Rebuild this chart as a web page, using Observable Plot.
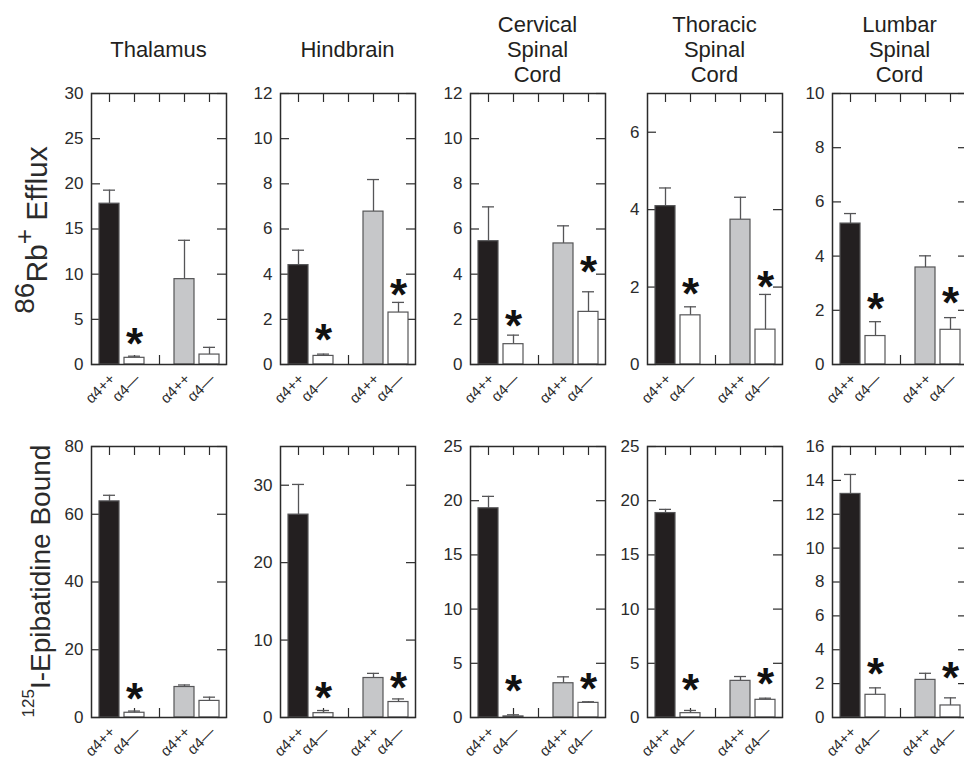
<!DOCTYPE html>
<html>
<head>
<meta charset="utf-8">
<script src="https://cdn.jsdelivr.net/npm/d3@7"></script>
<script src="https://cdn.jsdelivr.net/npm/@observablehq/plot@0.6"></script>
<style>
  html, body { margin: 0; padding: 0; background: #fff; overflow: hidden; width: 964px; height: 759px; }
  #chart { position: relative; width: 964px; height: 759px; overflow: hidden;
           font-family: "Liberation Sans", Arial, Helvetica, sans-serif; color: #231f20; }
  .panel { position: absolute; }
  .title { position: absolute; width: 200px; text-align: center; font-size: 22px; line-height: 25px; white-space: pre; }
</style>
</head>
<body>
<div id="chart"></div>
<script>
// ---------------- data ----------------
const regions = ["Thalamus", "Hindbrain", "Cervical\nSpinal\nCord", "Thoracic\nSpinal\nCord", "Lumbar\nSpinal\nCord"];
const barKeys = ["wt1", "ko1", "wt2", "ko2"];
const barLabels = ["α4++", "α4—", "α4++", "α4—"];
const slotKeys = ["wt1", "ko1", "gap", "wt2", "ko2"];

// 86Rb+ efflux (top row)
const effluxMax = [30, 12, 12, 7, 10];
const effluxTicks = [[0, 5, 10, 15, 20, 25, 30], [0, 2, 4, 6, 8, 10, 12], [0, 2, 4, 6, 8, 10, 12], [0, 2, 4, 6], [0, 2, 4, 6, 8, 10]];
const effluxMean = [[17.8, 0.74, 9.45, 1.1], [4.4, 0.38, 6.77, 2.3], [5.46, 0.9, 5.36, 2.33], [4.09, 1.27, 3.74, 0.9], [5.2, 1.05, 3.58, 1.28]];
const effluxErr = [[1.5, 0.18, 4.3, 0.8], [0.66, 0.08, 1.42, 0.45], [1.52, 0.4, 0.78, 0.89], [0.47, 0.22, 0.58, 0.91], [0.37, 0.53, 0.43, 0.45]];
// height (in axis units) of the significance asterisk, null = none
const effluxStar = [[null, 3.2, null, null], [null, 1.42, null, 3.42], [null, 2.04, null, 4.45], [null, 2.02, null, 2.2], [null, 2.34, null, 2.57]];

// 125I-epibatidine binding (bottom row)
const bindingMax = [80, 35, 25, 25, 16];
const bindingTicks = [[0, 20, 40, 60, 80], [0, 10, 20, 30], [0, 5, 10, 15, 20, 25], [0, 5, 10, 15, 20, 25], [0, 2, 4, 6, 8, 10, 12, 14, 16]];
const bindingMean = [[63.8, 1.4, 9.0, 4.9], [26.2, 0.56, 5.1, 2.0], [19.3, 0.1, 3.16, 1.35], [18.86, 0.4, 3.38, 1.63], [13.2, 1.34, 2.22, 0.71]];
const bindingErr = [[1.8, 0.5, 0.6, 1.1], [3.9, 0.34, 0.6, 0.4], [1.1, 0.15, 0.59, 0.1], [0.34, 0.25, 0.4, 0.15], [1.15, 0.41, 0.39, 0.45]];
const bindingStar = [[null, 7.96, null, null], [null, 3.49, null, 4.85], [null, 3.18, null, 3.41], [null, 3.26, null, 3.81], [null, 3.07, null, 2.83]];

// ---------------- layout / style ----------------
const FONT = '"Liberation Sans", Arial, Helvetica, sans-serif';
const ML = 40, MR = 4, MT = 4, MB = 52, FW = 135, FH = 271, TK = 9;
const frameLefts = [91, 280, 470, 647, 832];
const frameTops = [93, 446];
const INK = "#2b2b2b", EDGE = "#555557";
const fills = ["#231f20", "#ffffff", "#c6c7c9", "#ffffff"];
const STAR = 44;

const chart = document.getElementById("chart");

function panel(yMax, yTicks, mean, err, star) {
  const rows = barKeys.map((k, i) => ({key: k, mean: mean[i], top: mean[i] + err[i], star: star[i]}));
  return Plot.plot({
    width: ML + FW + MR, height: MT + FH + MB,
    marginLeft: ML, marginRight: MR, marginTop: MT, marginBottom: MB,
    style: {fontFamily: FONT, color: INK, background: "transparent", overflow: "visible", maxWidth: "none"},
    x: {domain: slotKeys, paddingInner: 0.2, paddingOuter: 0.29, axis: null},
    y: {domain: [0, yMax], axis: null},
    color: {domain: barKeys, range: fills},
    marks: [
      Plot.tickX(slotKeys, {x: d => d, insetBottom: FH - TK, stroke: INK, strokeWidth: 1.2}),
      Plot.tickX(slotKeys, {x: d => d, insetTop: FH - TK, stroke: INK, strokeWidth: 1.2}),
      Plot.tickY(yTicks, {y: d => d, insetRight: FW - TK, stroke: INK, strokeWidth: 1.2}),
      Plot.tickY(yTicks, {y: d => d, insetLeft: FW - TK, stroke: INK, strokeWidth: 1.2}),
      Plot.ruleX(rows, {x: "key", y1: "mean", y2: "top", stroke: EDGE, strokeWidth: 1.3}),
      Plot.tickY(rows, {x: "key", y: "top", insetLeft: 4, insetRight: 4, stroke: EDGE, strokeWidth: 1.3}),
      Plot.barY(rows, {x: "key", y: "mean", fill: "key", stroke: EDGE, strokeWidth: 1.2}),
      Plot.text(rows.filter(d => d.star != null), {x: "key", y: "star", text: () => "*", fontSize: STAR,
        fontWeight: "bold", lineAnchor: "bottom", dy: Math.round(0.52 * STAR), fill: "#111"}),
      Plot.axisY({ticks: yTicks, tickSize: 0, tickPadding: 8, label: null, fontSize: 17, fill: INK,
        tickFormat: d => String(d)}),
      Plot.text(barKeys, {x: d => d, text: k => barLabels[barKeys.indexOf(k)], frameAnchor: "bottom",
        rotate: -45, textAnchor: "end", lineAnchor: "middle", fontSize: 15, fill: INK,
        dx: 3, dy: 12, ariaLabel: "bar label"}),
      Plot.frame({stroke: INK, strokeWidth: 1.5})
    ]
  });
}

function restyle(svg) {
  d3.select(svg).selectAll('g[aria-label="bar label"] text').each(function() {
    const t = this.textContent;
    const base = t.slice(0, 2), sup = t.slice(2);
    this.textContent = base;
    d3.select(this).append("tspan").attr("dy", "-0.25em").attr("font-size", "0.92em").text(sup);
  });
}

const rowsSpec = [
  {max: effluxMax, ticks: effluxTicks, mean: effluxMean, err: effluxErr, star: effluxStar},
  {max: bindingMax, ticks: bindingTicks, mean: bindingMean, err: bindingErr, star: bindingStar}
];

rowsSpec.forEach((spec, r) => {
  regions.forEach((name, c) => {
    const svg = panel(spec.max[c], spec.ticks[c], spec.mean[c], spec.err[c], spec.star[c]);
    restyle(svg);
    const div = document.createElement("div");
    div.className = "panel";
    div.style.left = (frameLefts[c] - ML) + "px";
    div.style.top = (frameTops[r] - MT) + "px";
    div.appendChild(svg);
    chart.appendChild(div);
  });
});

// panel titles
regions.forEach((name, c) => {
  const lines = name.split("\n").length;
  const t = document.createElement("div");
  t.className = "title";
  t.textContent = name;
  t.style.left = (frameLefts[c] + FW / 2 - 100) + "px";
  t.style.top = (11.6 + (3 - lines) / 2 * 25) + "px";
  chart.appendChild(t);
});

// row labels
const ov = d3.select(chart).append("svg").attr("width", 964).attr("height", 759)
  .style("position", "absolute").style("left", 0).style("top", 0).style("pointer-events", "none");
const topLabel = ov.append("text").attr("transform", "translate(46.5,230) rotate(-90)")
  .attr("text-anchor", "middle").attr("font-family", FONT).attr("font-size", 30).attr("fill", INK);
topLabel.append("tspan").attr("font-size", 28).attr("dy", -13).text("86");
topLabel.append("tspan").attr("dy", 13).text("Rb");
topLabel.append("tspan").attr("font-size", 26).attr("dy", -14).text("+");
topLabel.append("tspan").attr("dy", 14).text(" Efflux");
const botLabel = ov.append("text").attr("transform", "translate(50,581) rotate(-90)")
  .attr("text-anchor", "middle").attr("font-family", FONT).attr("font-size", 28).attr("fill", INK);
botLabel.append("tspan").attr("font-size", 17).attr("dy", -16).text("125");
botLabel.append("tspan").attr("dy", 16).text("I-Epibatidine Bound");
</script>
</body>
</html>
